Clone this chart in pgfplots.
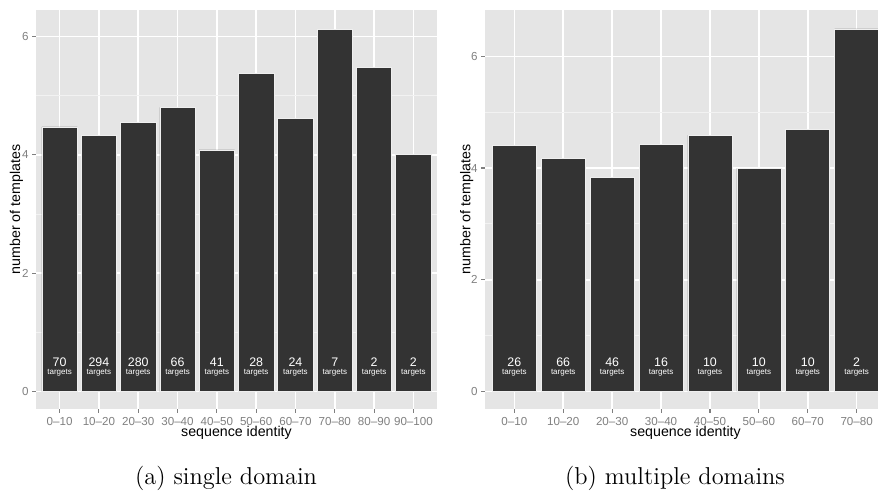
\documentclass[border=0pt]{standalone}
\usepackage{fontspec}
\usepackage{pgfplots}
\pgfplotsset{compat=1.18}
\newfontfamily\arial{Liberation Sans}
\definecolor{bg}{HTML}{E5E5E5}
\definecolor{barc}{HTML}{333333}
\definecolor{tickg}{HTML}{7F7F7F}
\definecolor{minorg}{HTML}{F2F2F2}
\pgfplotsset{gg/.style={
  scale only axis, width=200.5pt, height=199.5pt,
  axis background/.style={fill=bg},
  axis line style={draw=none},
  tick pos=left, tick align=outside,
  major tick length=2pt, minor tick length=0pt,
  tick style={tickg, line width=0.55pt},
  grid=both,
  major grid style={white, line width=0.8pt},
  minor grid style={minorg, line width=0.4pt},
  ytick={0,2,4,6}, yticklabels={0,2,4,6}, minor ytick={1,3,5},
  ticklabel style={font=\arial\fontsize{5.8}{6}\selectfont, text=tickg, inner sep=0pt},
  xticklabel style={yshift=-2pt},
  yticklabel style={xshift=-1.5pt},
  label style={font=\arial\fontsize{7.1}{8}\selectfont},
  xlabel={sequence identity}, ylabel={number of templates},
  xlabel style={at={(axis description cs:0.5,0)}, anchor=base, yshift=-14pt},
  numlab/.style={draw=none, mark=none, nodes near coords, point meta=explicit symbolic,
    every node near coord/.append style={anchor=base, yshift=12.3pt, text=white,
      font=\arial\fontsize{6.2}{7}\selectfont, inner sep=0pt}},
  tarlab/.style={draw=none, mark=none, nodes near coords={targets},
    every node near coord/.append style={anchor=base, yshift=8.5pt, text=white,
      font=\arial\fontsize{4}{5}\selectfont, inner sep=0pt}},
  barstyle/.style={ybar, bar width=0.9, fill=barc, draw=white!92!barc, line width=0.3pt},
}}
\begin{document}
\begin{tikzpicture}
\begin{scope}
\clip (0,0) rectangle (439pt,248pt);
\begin{axis}[gg, at={(18pt,43.5pt)}, anchor=south west,
  xmin=-0.6, xmax=9.6, ymin=-0.295, ymax=6.445,
  xtick={0,...,9},
  xticklabels={0–10,10–20,20–30,30–40,40–50,50–60,60–70,70–80,80–90,90–100},
  ylabel style={at={(axis description cs:-0.0399,0.5)}, anchor=base}]
\addplot[barstyle] coordinates {(0,4.47) (1,4.33) (2,4.55) (3,4.80) (4,4.08) (5,5.38) (6,4.61) (7,6.12) (8,5.48) (9,4.00)};
\addplot[numlab] table[meta=n] {
x y n
0 0 70
1 0 294
2 0 280
3 0 66
4 0 41
5 0 28
6 0 24
7 0 7
8 0 2
9 0 2
};
\addplot[tarlab] coordinates {(0,0) (1,0) (2,0) (3,0) (4,0) (5,0) (6,0) (7,0) (8,0) (9,0)};
\end{axis}
\begin{axis}[gg, at={(242.5pt,43.5pt)}, anchor=south west,
  xmin=-0.6, xmax=7.6, ymin=-0.315, ymax=6.83,
  xtick={0,...,7},
  xticklabels={0–10,10–20,20–30,30–40,40–50,50–60,60–70,70–80},
  ylabel style={at={(axis description cs:-0.0362,0.5)}, anchor=base}]
\addplot[barstyle] coordinates {(0,4.41) (1,4.17) (2,3.83) (3,4.43) (4,4.59) (5,4.00) (6,4.69) (7,6.49)};
\addplot[numlab] table[meta=n] {
x y n
0 0 26
1 0 66
2 0 46
3 0 16
4 0 10
5 0 10
6 0 10
7 0 2
};
\addplot[tarlab] coordinates {(0,0) (1,0) (2,0) (3,0) (4,0) (5,0) (6,0) (7,0)};
\end{axis}
\end{scope}
\node[anchor=base, font=\fontsize{12.2}{14}\selectfont, inner sep=0pt] at (113pt,5.85pt) {(a) single domain};
\node[anchor=base, font=\fontsize{12.2}{14}\selectfont, inner sep=0pt] at (337.5pt,5.85pt) {(b) multiple domains};
\pgfresetboundingbox
\path[use as bounding box] (0,0) rectangle (439pt,248pt);
\end{tikzpicture}
\end{document}
